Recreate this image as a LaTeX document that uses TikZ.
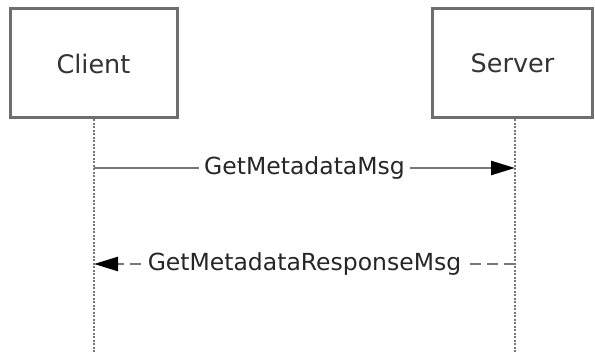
\documentclass[tikz,border=0pt]{standalone}
\usepackage{fontspec}
\setmainfont{DejaVu Sans}
\usetikzlibrary{arrows.meta, positioning}
\definecolor{linegray}{HTML}{777777}
\definecolor{boxgray}{HTML}{6E6E6E}

\begin{document}
\begin{tikzpicture}[x=1pt, y=1pt,
  actor/.style={draw=boxgray, line width=3pt, minimum width=167pt, minimum height=109pt, font=\fontsize{25.5}{30}\selectfont, text=black!80},
  lifeline/.style={draw=linegray, line width=2.5pt, dash pattern=on 2pt off 1.5pt},
  msg/.style={draw=linegray, line width=2.5pt, -{Triangle[length=24pt, width=14pt, color=black]}},
  msglabel/.style={fill=white, inner sep=5pt, font=\fontsize{23.5}{28}\selectfont, text=black!85}]
  \useasboundingbox (0,0) rectangle (595,353);
  % participants
  \node[actor] (client) at (93.5,289.5) {Client};
  \node[actor, minimum width=160pt] (server) at (512.5,289.5) {Server};
  % lifelines
  \coordinate (clientend) at (94,0);
  \coordinate (serverend) at (515,0);
  \draw[lifeline] (clientend |- client.south) -- (clientend);
  \draw[lifeline] (serverend |- server.south) -- (serverend);
  % messages
  \coordinate (c1) at (94,185);
  \coordinate (s1) at (515,185);
  \coordinate (c2) at (94,89);
  \coordinate (s2) at (515,89);
  \draw[msg] (c1) -- (s1) node[midway, msglabel] {GetMetadataMsg};
  \draw[msg, dash pattern=on 11pt off 6pt] (s2) -- (c2) node[midway, msglabel] {GetMetadataResponseMsg};
\end{tikzpicture}
\end{document}
